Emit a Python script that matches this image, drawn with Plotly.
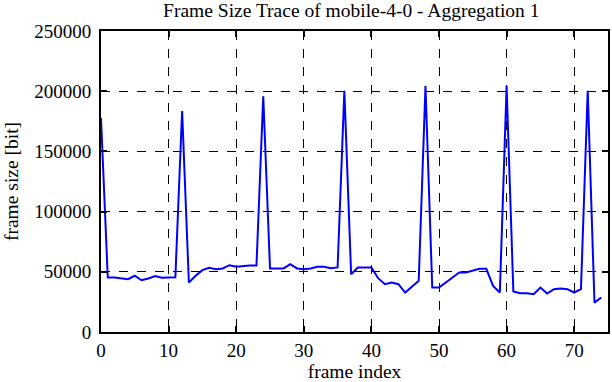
import plotly.graph_objects as go

frame_index = list(range(75))
frame_size = [
    178000, 45300, 45300, 44400, 43900, 46700, 43000, 44400, 46400, 45000,
    45000, 45500, 183600, 41100, 46700, 51400, 53300, 52200, 52800, 55500,
    54200, 55000, 55300, 55300, 195800, 52800, 52800, 52800, 56400, 52800,
    52200, 52800, 54200, 54200, 53000, 53600, 200300, 48000, 53600, 53600,
    53600, 44700, 39700, 41100, 39700, 32800, 37800, 42500, 204200, 36900,
    36900, 41100, 44700, 49400, 49400, 50800, 52500, 52500, 38300, 32800,
    204200, 33600, 32200, 32200, 31400, 36900, 31900, 35600, 36100, 35600,
    32800, 35600, 200300, 24400, 28600,
]
x_ticks = [0, 10, 20, 30, 40, 50, 60, 70]
y_ticks = [0, 50000, 100000, 150000, 200000, 250000]
y_tick_labels = ["0", "50000", "100000", "150000", "200000", "250000"]

font = "Liberation Serif, Times New Roman, serif"

fig = go.Figure(
    go.Scatter(x=frame_index, y=frame_size, mode="lines",
               line=dict(color="#0000ff", width=2), showlegend=False)
)

axis_common = dict(
    showline=True, linecolor="black", linewidth=2, mirror="ticks",
    ticks="inside", ticklen=6, tickwidth=2, tickcolor="black",
    showgrid=True, gridcolor="black", griddash="dash", gridwidth=1,
    zeroline=False,
    tickfont=dict(family=font, size=19, color="black"),
)

fig.update_layout(
    width=612, height=382,
    margin=dict(l=101, r=2, t=31, b=50),
    paper_bgcolor="white", plot_bgcolor="white",
    title=dict(text="Frame Size Trace of mobile-4-0 - Aggregation 1",
               x=0.574, xanchor="center", y=0.99, yanchor="top",
               automargin=False,
               font=dict(family=font, size=19.5, color="black")),
    xaxis=dict(range=[0, 75], tickvals=x_ticks, automargin=False,
               title=dict(text="frame index", standoff=4,
                          font=dict(family=font, size=19.5, color="black")),
               **axis_common),
    yaxis=dict(range=[0, 250000], tickvals=y_ticks, ticktext=y_tick_labels,
               ticklabelstandoff=4, automargin=True,
               title=dict(text="frame size [bit]", standoff=10,
                          font=dict(family=font, size=19.5, color="black")),
               **axis_common),
)

fig.write_html("out.html", config={"displayModeBar": False},
               post_script="document.body.style.margin='0';document.body.style.padding='0';")
